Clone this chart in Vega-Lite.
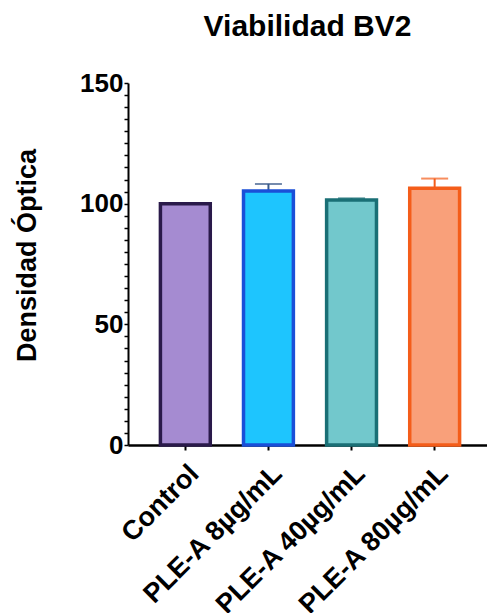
{
  "$schema": "https://vega.github.io/schema/vega-lite/v6.json",
  "width": 359,
  "height": 362,
  "autosize": {"type": "none"},
  "padding": {"left": 128, "top": 83, "right": 0, "bottom": 168},
  "background": "white",
  "config": {"view": {"stroke": null}},
  "title": {
    "text": "Viabilidad BV2",
    "font": "Liberation Sans",
    "fontSize": 30,
    "fontWeight": "bold",
    "color": "black",
    "anchor": "middle",
    "offset": 28
  },
  "data": {
    "values": [
      {"grupo": "Control", "media": 100, "sup": 100},
      {"grupo": "PLE-A 8µg/mL", "media": 105.3, "sup": 108.2},
      {"grupo": "PLE-A 40µg/mL", "media": 101.5, "sup": 102.2},
      {"grupo": "PLE-A 80µg/mL", "media": 106.4, "sup": 110.4}
    ]
  },
  "encoding": {
    "x": {
      "field": "grupo",
      "type": "nominal",
      "sort": null,
      "scale": {"paddingInner": 0.4, "paddingOuter": 0.39, "range": [0, 364]},
      "axis": {
        "title": null,
        "labelAngle": -45,
        "labelAlign": "right",
        "labelBaseline": "top",
        "labelFont": "Liberation Sans",
        "labelFontSize": 27,
        "labelFontWeight": "bold",
        "labelColor": "black",
        "labelPadding": 10,
        "labelLimit": 0,
        "labelOverlap": false,
        "domainColor": "black",
        "domainWidth": 2.5,
        "tickColor": "black",
        "tickWidth": 2,
        "tickSize": 5
      }
    },
    "y": {
      "field": "media",
      "type": "quantitative",
      "scale": {"domain": [0, 150], "nice": false},
      "axis": {
        "title": "Densidad Óptica",
        "titleFont": "Liberation Sans",
        "titleFontSize": 27,
        "titleFontWeight": "bold",
        "titleColor": "black",
        "titlePadding": 38,
        "titleY": 172,
        "values": [0, 5, 10, 15, 20, 25, 30, 35, 40, 45, 50, 55, 60, 65, 70, 75, 80, 85, 90, 95, 100, 105, 110, 115, 120, 125, 130, 135, 140, 145, 150],
        "labelExpr": "datum.value % 50 === 0 ? datum.label : ''",
        "labelOverlap": false,
        "labelFont": "Liberation Sans",
        "labelFontSize": 26,
        "labelFontWeight": "bold",
        "labelColor": "black",
        "labelPadding": 1,
        "grid": false,
        "domainColor": "black",
        "domainWidth": 2,
        "tickColor": "black",
        "tickWidth": 1.5,
        "tickSize": 4
      }
    }
  },
  "layer": [
    {
      "mark": {"type": "rule", "strokeWidth": 2},
      "encoding": {
        "y2": {"field": "sup"},
        "color": {
          "field": "grupo", "type": "nominal", "sort": null,
          "scale": {"domain": ["Control", "PLE-A 8µg/mL", "PLE-A 40µg/mL", "PLE-A 80µg/mL"], "range": ["#2a1a4a", "#3a5a8a", "#1a6f75", "#f45d1a"]},
          "legend": null
        }
      }
    },
    {
      "mark": {"type": "tick", "thickness": 2, "size": 27, "orient": "horizontal"},
      "encoding": {
        "y": {
          "field": "sup",
          "type": "quantitative",
          "axis": {
            "title": "Densidad Óptica",
            "titleFont": "Liberation Sans",
            "titleFontSize": 27,
            "titleFontWeight": "bold",
            "titleColor": "black",
            "titlePadding": 38,
            "titleY": 172,
            "values": [0, 5, 10, 15, 20, 25, 30, 35, 40, 45, 50, 55, 60, 65, 70, 75, 80, 85, 90, 95, 100, 105, 110, 115, 120, 125, 130, 135, 140, 145, 150],
            "labelExpr": "datum.value % 50 === 0 ? datum.label : ''",
            "labelOverlap": false,
            "labelFont": "Liberation Sans",
            "labelFontSize": 26,
            "labelFontWeight": "bold",
            "labelColor": "black",
            "labelPadding": 1,
            "grid": false,
            "domainColor": "black",
            "domainWidth": 2,
            "tickColor": "black",
            "tickWidth": 1.5,
            "tickSize": 4
          }
        },
        "color": {"field": "grupo", "type": "nominal", "sort": null, "legend": null}
      }
    },
    {
      "mark": {"type": "bar", "strokeWidth": 3.5},
      "encoding": {
        "fill": {
          "field": "grupo", "type": "nominal", "sort": null,
          "scale": {"domain": ["Control", "PLE-A 8µg/mL", "PLE-A 40µg/mL", "PLE-A 80µg/mL"], "range": ["#a58bd1", "#1ec5fe", "#72c8cc", "#f9a07a"]},
          "legend": null
        },
        "stroke": {
          "field": "grupo", "type": "nominal", "sort": null,
          "scale": {"domain": ["Control", "PLE-A 8µg/mL", "PLE-A 40µg/mL", "PLE-A 80µg/mL"], "range": ["#2a1a4a", "#1a4fd8", "#1a6f75", "#f45d1a"]},
          "legend": null
        }
      }
    }
  ]
}
